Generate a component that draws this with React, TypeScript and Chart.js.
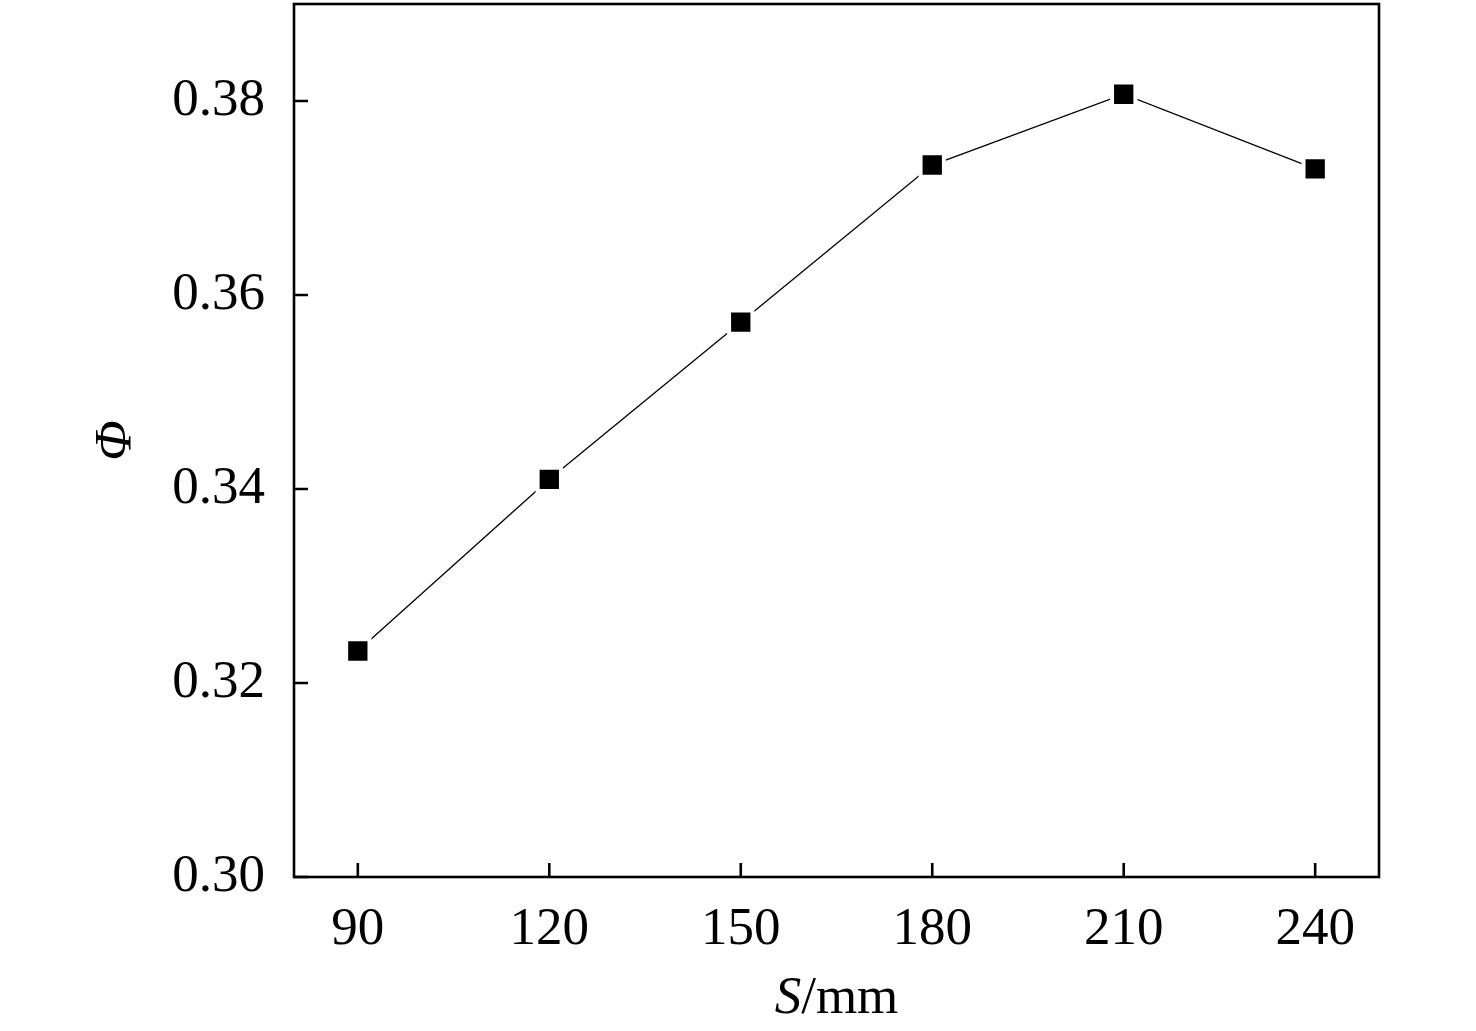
import { Chart, registerables } from "chart.js";
import { useEffect, useRef } from "react";

Chart.register(...registerables);

// spacing S (mm) and the coefficient Φ
const spacing = [90, 120, 150, 180, 210, 240];
const phi = [0.3233, 0.341, 0.3572, 0.3734, 0.3807, 0.373];
const xTicks = [90, 120, 150, 180, 210, 240];
const yTicks = [0.3, 0.32, 0.34, 0.36, 0.38];

const serif = "'Liberation Serif', 'Times New Roman', serif";

const framePlugin = {
    id: "frame",
    afterDraw(chart: any) {
        const { ctx, chartArea: a, scales } = chart;
        ctx.save();
        ctx.strokeStyle = "#000";
        ctx.lineWidth = 2.6;
        ctx.strokeRect(a.left, a.top, a.right - a.left, a.bottom - a.top);
        ctx.beginPath();
        for (const v of xTicks) {
            const px = scales.x.getPixelForValue(v);
            ctx.moveTo(px, a.bottom);
            ctx.lineTo(px, a.bottom - 14);
        }
        for (const v of yTicks) {
            const py = scales.y.getPixelForValue(v);
            ctx.moveTo(a.left, py);
            ctx.lineTo(a.left + 14, py);
        }
        ctx.stroke();

        // x title: italic S followed by upright /mm
        ctx.fillStyle = "#000";
        ctx.textBaseline = "alphabetic";
        ctx.font = `italic 53px ${serif}`;
        const s = "S";
        const sw = ctx.measureText(s).width;
        ctx.font = `53px ${serif}`;
        const rest = "/mm";
        const rw = ctx.measureText(rest).width;
        const cx = (a.left + a.right) / 2;
        const x0 = cx - (sw + rw) / 2;
        const base = 1013;
        ctx.font = `italic 53px ${serif}`;
        ctx.fillText(s, x0, base);
        ctx.font = `53px ${serif}`;
        ctx.fillText(rest, x0 + sw, base);
        ctx.restore();
    },
};

export default function App() {
    const canvasRef = useRef<HTMLCanvasElement>(null);
    useEffect(() => {
        const el = canvasRef.current;
        if (el == null) return;
        const chart = new Chart(el, {
            type: "line",
            data: {
                datasets: [{
                    label: "Φ",
                    data: spacing.map((x, i) => ({ x, y: phi[i] })),
                    borderColor: "#000",
                    borderWidth: 1.3,
                    backgroundColor: "#000",
                    pointStyle: "rect",
                    pointRadius: 16.5,
                    pointBorderColor: "#fff",
                    pointBorderWidth: 4,
                    pointBackgroundColor: "#000",
                    tension: 0,
                    fill: false,
                }],
            },
            options: {
                animation: false,
                responsive: true,
                maintainAspectRatio: false,
                devicePixelRatio: 1,
                layout: { autoPadding: false, padding: { left: 0, top: 4, right: 97, bottom: 0 } },
                plugins: {
                    legend: { display: false },
                    tooltip: { enabled: false },
                },
                scales: {
                    x: {
                        type: "linear",
                        min: 80,
                        max: 250,
                        afterBuildTicks: (scale: any) => { scale.ticks = xTicks.map(v => ({ value: v })) },
                        afterFit: (scale: any) => {
                            scale.height = 154;
                            scale.paddingLeft = 0;
                            scale.paddingRight = 0;
                        },
                        grid: { display: false, drawTicks: false },
                        border: { display: false },
                        ticks: {
                            color: "#000",
                            padding: 21,
                            maxRotation: 0,
                            font: { family: serif, size: 53 },
                        },
                    },
                    y: {
                        min: 0.3,
                        max: 0.39,
                        afterBuildTicks: (scale: any) => { scale.ticks = yTicks.map(v => ({ value: v })) },
                        afterFit: (scale: any) => {
                            scale.width = 294;
                            scale.paddingTop = 0;
                            scale.paddingBottom = 0;
                        },
                        grid: { display: false, drawTicks: false },
                        border: { display: false },
                        ticks: {
                            color: "#000",
                            padding: 29,
                            font: { family: serif, size: 53 },
                            callback: (v: any) => Number(v).toFixed(2),
                        },
                        title: {
                            display: true,
                            text: "Φ",
                            color: "#000",
                            padding: { top: 85, bottom: 0 },
                            font: { family: serif, size: 53, style: "italic" },
                        },
                    },
                },
            },
            plugins: [framePlugin],
        });
        return () => chart.destroy();
    }, []);

    return (
        <div style={{ position: "absolute", left: 0, top: 0, width: 1476, height: 1031, background: "#fff" }}>
            <canvas ref={canvasRef} />
        </div>
    );
}
